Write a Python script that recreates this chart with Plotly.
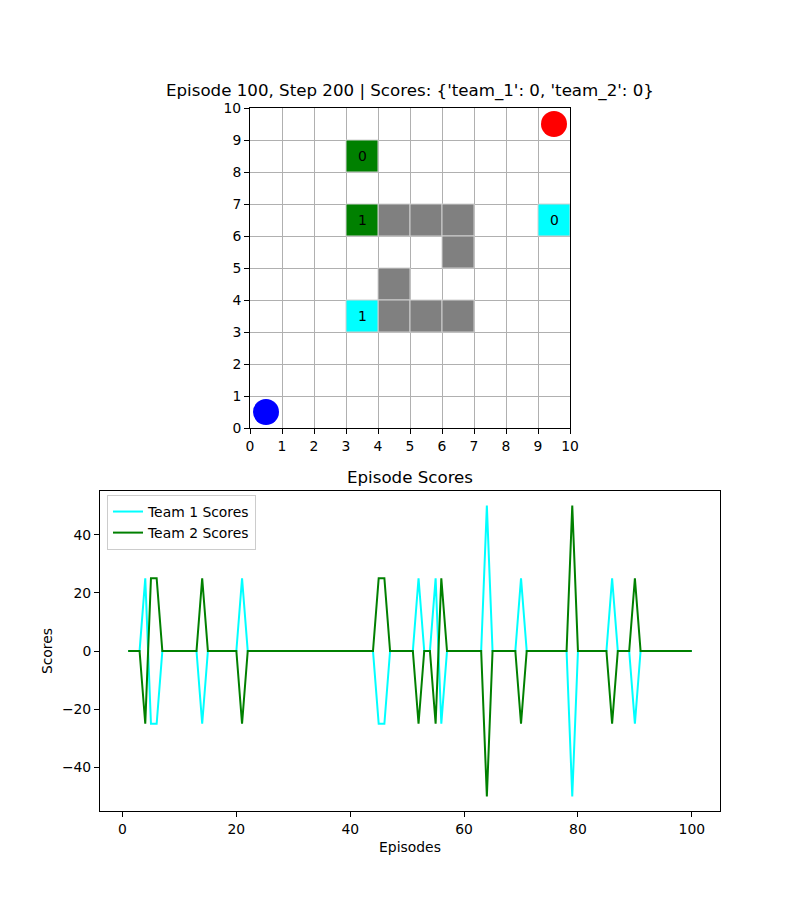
import plotly.graph_objects as go

# ---------------- data ----------------
grid_size = 10
obstacles = [(4, 6), (5, 6), (6, 6), (6, 5), (4, 4), (4, 3), (5, 3), (6, 3)]
team2_flags = [(3, 8, "0"), (3, 6, "1")]   # green
team1_flags = [(3, 3, "1"), (9, 6, "0")]   # cyan
red_agent = (9.5, 9.5)
blue_agent = (0.5, 0.5)

episodes = list(range(1, 101))
team1_scores = [0] * 100
team2_scores = [0] * 100
# (episode, team1, team2)
events = [
    (4, 25, -25), (5, -25, 25), (6, -25, 25), (14, -25, 25), (21, 25, -25),
    (45, -25, 25), (46, -25, 25), (52, 25, -25), (55, 25, -25), (56, -25, 25),
    (64, 50, -50), (70, 25, -25), (79, -50, 50), (86, 25, -25), (90, -25, 25),
]
for ep, s1, s2 in events:
    team1_scores[ep - 1] = s1
    team2_scores[ep - 1] = s2

grid_title = "Episode 100, Step 200 | Scores: {'team_1': 0, 'team_2': 0}"
score_title = "Episode Scores"

# ---------------- figure ----------------
FONT = "DejaVu Sans"
W, H = 800, 911
OFF = 8  # page body margin


def px(x):
    return (x - OFF) / W


def py(y):
    return 1 - (y - OFF) / H


fig = go.Figure()

shapes = []
annotations = []
for (cx, cy) in obstacles:
    shapes.append(dict(type="rect", xref="x", yref="y", x0=cx, x1=cx + 1, y0=cy, y1=cy + 1,
                       fillcolor="#808080", line=dict(color="#d0d0d0", width=1), layer="above"))
for (cx, cy, lab) in team2_flags:
    shapes.append(dict(type="rect", xref="x", yref="y", x0=cx, x1=cx + 1, y0=cy, y1=cy + 1,
                       fillcolor="#008000", line=dict(color="#d0d0d0", width=1), layer="above"))
    annotations.append(dict(x=cx + 0.5, y=cy + 0.5, xref="x", yref="y", text=lab, showarrow=False,
                            font=dict(family=FONT, size=13.9, color="black")))
for (cx, cy, lab) in team1_flags:
    shapes.append(dict(type="rect", xref="x", yref="y", x0=cx, x1=cx + 1, y0=cy, y1=cy + 1,
                       fillcolor="#00ffff", line=dict(color="#d0d0d0", width=1), layer="above"))
    annotations.append(dict(x=cx + 0.5, y=cy + 0.5, xref="x", yref="y", text=lab, showarrow=False,
                            font=dict(family=FONT, size=13.9, color="black")))

fig.add_trace(go.Scatter(x=[red_agent[0]], y=[red_agent[1]], mode="markers",
                         marker=dict(color="#ff0000", size=26, line=dict(width=0)),
                         showlegend=False, xaxis="x", yaxis="y", hoverinfo="skip", cliponaxis=False))
fig.add_trace(go.Scatter(x=[blue_agent[0]], y=[blue_agent[1]], mode="markers",
                         marker=dict(color="#0000ff", size=26, line=dict(width=0)),
                         showlegend=False, xaxis="x", yaxis="y", hoverinfo="skip", cliponaxis=False))

fig.add_trace(go.Scatter(x=episodes, y=team1_scores, mode="lines", name="Team 1 Scores",
                         line=dict(color="#00ffff", width=2), xaxis="x2", yaxis="y2"))
fig.add_trace(go.Scatter(x=episodes, y=team2_scores, mode="lines", name="Team 2 Scores",
                         line=dict(color="#008000", width=2), xaxis="x2", yaxis="y2"))

# titles
annotations.append(dict(x=px(410), y=py(91), xref="paper", yref="paper", text=grid_title,
                        showarrow=False, font=dict(family=FONT, size=16.67, color="black"),
                        xanchor="center", yanchor="middle"))
annotations.append(dict(x=px(410), y=py(478), xref="paper", yref="paper", text=score_title,
                        showarrow=False, font=dict(family=FONT, size=16.67, color="black"),
                        xanchor="center", yanchor="middle"))

axis_common = dict(showline=True, linecolor="black", linewidth=1, mirror=True,
                   ticks="outside", ticklen=5, tickcolor="black", tickwidth=1,
                   tickfont=dict(family=FONT, size=13.9, color="black"), zeroline=False,
                   automargin=False)

fig.update_layout(
    width=W, height=H,
    margin=dict(l=0, r=0, t=0, b=0, autoexpand=False),
    paper_bgcolor="white", plot_bgcolor="white",
    font=dict(family=FONT, size=13.9, color="black"),
    shapes=shapes, annotations=annotations,
    xaxis=dict(domain=[px(250), px(570)], range=[0, grid_size], tickmode="linear", tick0=0, dtick=1,
               showgrid=True, gridcolor="#b0b0b0", gridwidth=1, anchor="y", **axis_common),
    yaxis=dict(domain=[py(428), py(108)], range=[0, grid_size], tickmode="linear", tick0=0, dtick=1,
               showgrid=True, gridcolor="#b0b0b0", gridwidth=1, anchor="x", **axis_common),
    xaxis2=dict(domain=[px(100), px(720)], range=[-3.95, 104.95], tickmode="linear", tick0=0, dtick=20,
                showgrid=False, anchor="y2",
                title=dict(text="Episodes", font=dict(family=FONT, size=13.9), standoff=6), **axis_common),
    yaxis2=dict(domain=[py(811), py(491)], range=[-55, 55], tickmode="array",
                tickvals=[-40, -20, 0, 20, 40], ticktext=["\u221240", "\u221220", "0", "20", "40"],
                showgrid=False, anchor="x2",
                title=dict(text="Scores", font=dict(family=FONT, size=13.9), standoff=6), **axis_common),
    legend=dict(x=px(107), y=py(495), xanchor="left", yanchor="top",
                bordercolor="#cccccc", borderwidth=1, bgcolor="rgba(255,255,255,0.8)",
                font=dict(family=FONT, size=13.9), tracegroupgap=0),
    showlegend=True,
)

fig.write_html("out.html")
